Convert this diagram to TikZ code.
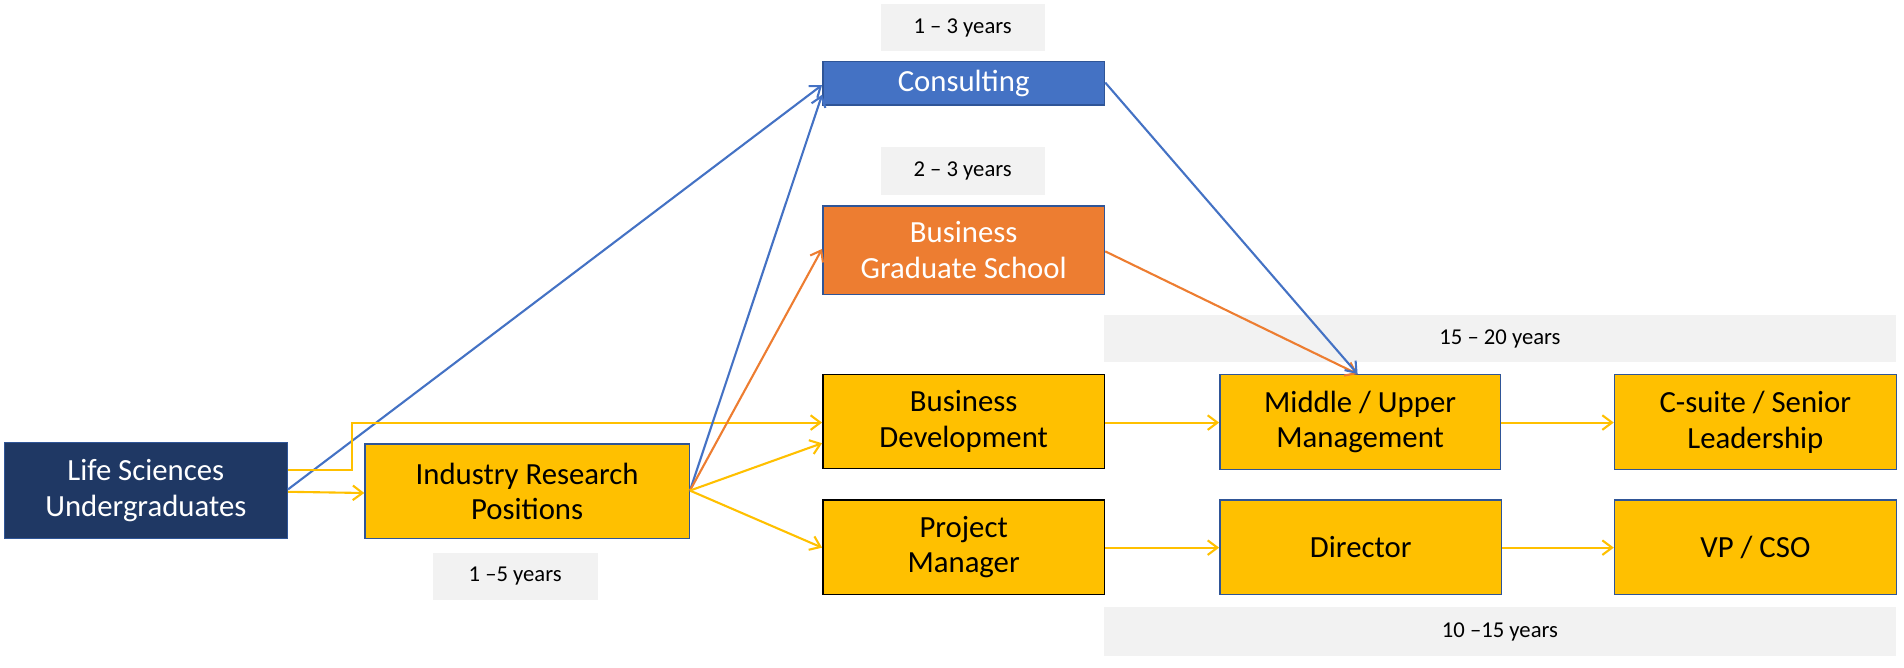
\documentclass[tikz,border=0pt]{standalone}
\usepackage{fontspec}
\setmainfont{Carlito}
\usetikzlibrary{arrows.meta}
\definecolor{navy}{HTML}{1F3864}
\definecolor{yel}{HTML}{FFC000}
\definecolor{blu}{HTML}{4472C4}
\definecolor{org}{HTML}{ED7D31}
\definecolor{gry}{HTML}{F2F2F2}
\definecolor{bord}{HTML}{2F5597}
\tikzset{
  box/.style={draw=bord,line width=0.9pt,align=center,font=\fontsize{19}{22}\selectfont,inner sep=0pt},
  lbl/.style={fill=gry,draw=none,font=\fontsize{14}{16}\selectfont,inner sep=0pt},
  arr/.style={line width=1.3pt,-{Straight Barb[length=6pt,width=9pt]}},
}
\newcommand{\bx}[7]{\node[#1,minimum width={(#4-#3)*0.75pt},minimum height={(#6-#5)*0.75pt},anchor=north west] (#2) at (#3,#5) {#7};}
\begin{document}
\begin{tikzpicture}[x=0.75pt,y=-0.75pt]
\useasboundingbox (0,0) rectangle (1568,549.3);
\bx{box,fill=navy,text=white}{ls}{3}{236}{364}{443}{Life Sciences\\Undergraduates}
\bx{box,fill=yel}{ir}{300}{567}{365}{443}{Industry Research\\Positions}
\bx{box,fill=blu,text=white}{con}{677}{909}{50}{86}{Consulting}
\bx{box,fill=org,text=white}{bgs}{677}{909}{169}{242}{Business\\Graduate School}
\bx{box,fill=yel,draw=black}{bd}{677}{909}{308}{385}{Business\\Development}
\bx{box,fill=yel,draw=black}{pm}{677}{909}{411}{489}{Project\\Manager}
\bx{box,fill=yel}{mu}{1004}{1235}{308}{386}{Middle / Upper\\Management}
\bx{box,fill=yel}{cs}{1329}{1561}{308}{386}{C-suite / Senior\\Leadership}
\bx{box,fill=yel}{dir}{1004}{1236}{411}{489}{Director}
\bx{box,fill=yel}{vp}{1329}{1561}{411}{489}{VP / CSO}
\bx{lbl}{l1}{725}{860}{3}{42}{1 – 3 years}
\bx{lbl}{l2}{725}{860}{121}{160}{2 – 3 years}
\bx{lbl}{l3}{909}{1561}{259}{298}{15 – 20 years}
\bx{lbl}{l4}{356}{492}{455}{494}{1 –5 years}
\bx{lbl}{l5}{909}{1561}{500}{540}{10 –15 years}
\coordinate (mutop) at (1118,308);
\draw[arr,blu] (ls.east |- 0,403) -- (con.west |- 0,70);
\draw[arr,yel] (ls.east |- 0,387) -- (290,387) -- (290,348) -- (bd.west |- 0,348);
\draw[arr,yel] (ls.east |- 0,405) -- (ir.west |- 0,406);
\draw[arr,blu] (ir.east |- 0,404) -- (con.west |- 0,78);
\draw[arr,org] (ir.east |- 0,404) -- (bgs.west |- 0,205);
\draw[arr,yel] (ir.east |- 0,404) -- (bd.west |- 0,365);
\draw[arr,yel] (ir.east |- 0,404) -- (pm.west |- 0,451);
\draw[arr,org] (bgs.east |- 0,207) -- (mutop);
\draw[arr,blu] (con.east |- 0,68) -- (mutop);
\draw[arr,yel] (bd.east |- 0,348) -- (mu.west |- 0,348);
\draw[arr,yel] (mu.east |- 0,348) -- (cs.west |- 0,348);
\draw[arr,yel] (pm.east |- 0,451) -- (dir.west |- 0,451);
\draw[arr,yel] (dir.east |- 0,451) -- (vp.west |- 0,451);
\end{tikzpicture}
\end{document}
